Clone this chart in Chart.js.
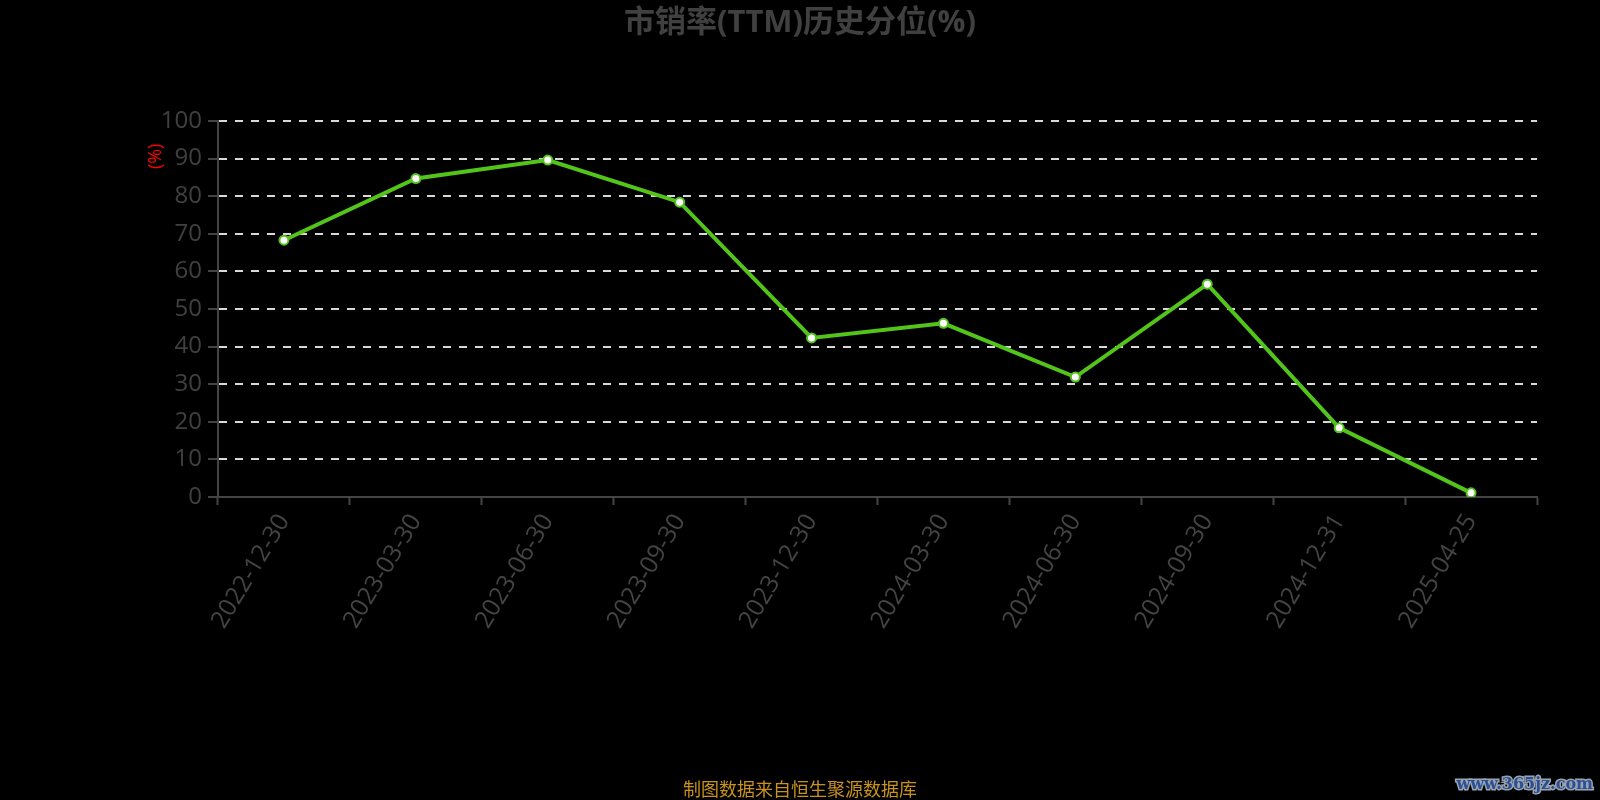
<!DOCTYPE html>
<html>
<head>
<meta charset="utf-8">
<script src="https://cdn.jsdelivr.net/npm/chart.js@4/dist/chart.umd.min.js"></script>
<style>
  html, body { margin: 0; padding: 0; background: #000; }
  #wrap { width: 1600px; height: 800px; }
</style>
</head>
<body>
<div id="wrap"><canvas id="chart" width="1600" height="800"></canvas></div>
<script>
// data
const dates = ['2022-12-30', '2023-03-30', '2023-06-30', '2023-09-30', '2023-12-30',
  '2024-03-30', '2024-06-30', '2024-09-30', '2024-12-31', '2025-04-25'];
const percentile = [68.3, 84.7, 89.6, 78.4, 42.3, 46.2, 31.9, 56.6, 18.4, 1.1];
const yTicks = [0, 10, 20, 30, 40, 50, 60, 70, 80, 90, 100];

const titleText = '市销率(TTM)历史分位(%)';
const unitText = '(%)';
const sourceText = '制图数据来自恒生聚源数据库';
const markText = 'www.365jz.com';

const latin = '"Open Sans", "Noto Sans CJK SC", sans-serif';

// title, unit label, footer and watermark
const extraText = {
  id: 'extraText',
  afterDraw(chart) {
    const ctx = chart.ctx;
    const y = chart.scales.y;
    ctx.save();
    ctx.textAlign = 'center';
    ctx.textBaseline = 'middle';

    ctx.fillStyle = '#404040';
    ctx.font = 'bold 31px ' + latin;
    ctx.fillText(titleText, chart.width / 2, 23);

    ctx.save();
    ctx.translate(y.right - 62, y.getPixelForValue(90.6));
    ctx.rotate(-Math.PI / 2);
    ctx.fillStyle = '#ff0000';
    ctx.font = '18px ' + latin;
    ctx.fillText(unitText, 0, 0);
    ctx.restore();

    ctx.fillStyle = '#c8921e';
    ctx.font = '18px "Noto Sans CJK SC", sans-serif';
    ctx.fillText(sourceText, chart.width / 2, 789);

    ctx.font = 'bold 16px "DejaVu Serif", serif';
    ctx.textAlign = 'right';
    ctx.lineWidth = 3;
    ctx.strokeStyle = '#9aa3b0';
    ctx.strokeText(markText, 1593, 785);
    ctx.fillStyle = '#2b4f94';
    ctx.fillText(markText, 1593, 785);
    ctx.restore();
  }
};

const green = '#52c41a';

new Chart(document.getElementById('chart').getContext('2d'), {
  type: 'line',
  data: {
    labels: dates,
    datasets: [{
      label: titleText,
      data: percentile,
      borderColor: green,
      borderWidth: 4,
      pointRadius: 4.5,
      pointBorderWidth: 2,
      pointBackgroundColor: '#ffffff',
      pointBorderColor: green,
      tension: 0
    }]
  },
  options: {
    responsive: false,
    animation: false,
    layout: { padding: { top: 121, left: 0, right: 63, bottom: 0 } },
    plugins: {
      legend: { display: false },
      tooltip: { enabled: false },
      title: { display: false }
    },
    scales: {
      x: {
        offset: true,
        afterFit: (s) => { s.height = 303; },
        border: { color: '#444', width: 2 },
        grid: { drawOnChartArea: false, offset: true, tickLength: 8, tickColor: '#444', tickWidth: 2 },
        ticks: {
          autoSkip: false,
          minRotation: 59,
          maxRotation: 59,
          color: '#444',
          padding: 4,
          font: { family: latin, size: 24.5 }
        }
      },
      y: {
        min: 0,
        max: 100,
        afterFit: (s) => { s.width = 218; },
        afterBuildTicks: (s) => { s.ticks = yTicks.map(v => ({ value: v })); },
        border: { color: '#444', width: 2, dash: [8, 8] },
        grid: { color: '#d9d9d9', lineWidth: 2, tickLength: 10, tickColor: '#444', tickWidth: 2 },
        ticks: {
          color: '#404040',
          padding: 6,
          font: { family: latin, size: 24 }
        }
      }
    }
  },
  plugins: [extraText]
});
</script>
</body>
</html>
